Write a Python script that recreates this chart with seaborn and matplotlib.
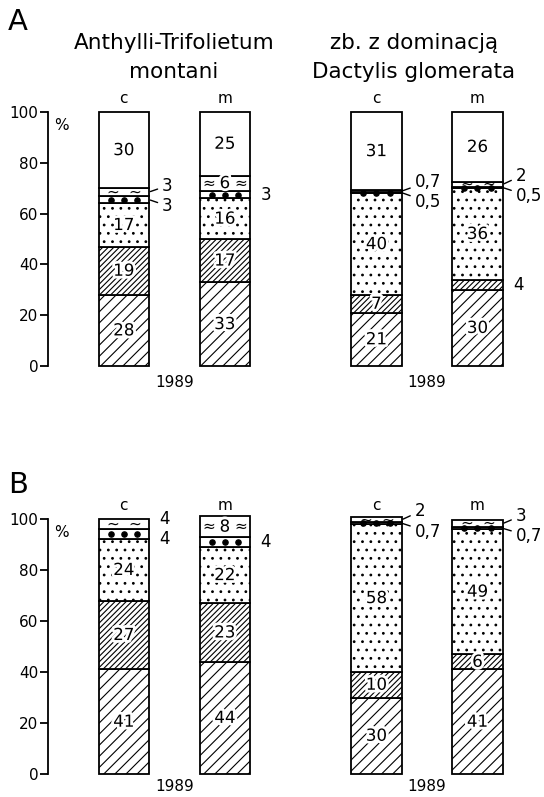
import numpy as np
import pandas as pd
import matplotlib.pyplot as plt
import matplotlib.patheffects as pe
import seaborn as sns

sns.set_style('ticks')
plt.rcParams['font.family'] = ['DejaVu Sans']
plt.rcParams['hatch.linewidth'] = 0.8
plt.rcParams['text.color'] = 'black'
plt.rcParams['ytick.color'] = 'black'
plt.rcParams['axes.edgecolor'] = 'black'

# --- data ---
groups = [('Anthylli-Trifolietum', 'montani'), ('zb. z dominacją', 'Dactylis glomerata')]
bar_names = ['c', 'm', 'c', 'm']
year = '1989'
yticks = [0, 20, 40, 60, 80, 100]
layers = ['wide', 'dense', 'dots', 'bigdots', 'wavy', 'rest']

# panel A (bottom -> top), bars: c, m | c, m
wide_A = [28, 33, 21, 30]
dense_A = [19, 17, 7, 4]
dots_A = [17, 16, 40, 36]
bigdots_A = [3, 3, 0.5, 0.5]
wavy_A = [3, 6, 0.7, 2]
rest_A = [30, 25, 31, 26]

# panel B
wide_B = [41, 44, 30, 41]
dense_B = [27, 23, 10, 6]
dots_B = [24, 22, 58, 49]
bigdots_B = [4, 4, 0.7, 0.7]
wavy_B = [4, 8, 2, 3]
rest_B = [0, 0, 0, 0]

panel_A = dict(wide=wide_A, dense=dense_A, dots=dots_A, bigdots=bigdots_A, wavy=wavy_A, rest=rest_A)
panel_B = dict(wide=wide_B, dense=dense_B, dots=dots_B, bigdots=bigdots_B, wavy=wavy_B, rest=rest_B)

hatches = dict(wide='///', dense='//////', dots='..', bigdots='', wavy='', rest='')

pos = np.array([0, 1, 2.5, 3.5])
half = 0.25
halo = [pe.withStroke(linewidth=4, foreground='white')]


def fmt(v):
    return ('%g' % v).replace('.', ',')


def draw_panel(ax, panel, year_y):
    bottom = np.zeros(4)
    segs = {}
    for layer in layers:
        vals = np.array(panel[layer], float)
        if layer == 'rest':
            if not vals.any():
                continue
            heights = 100 - bottom
        else:
            heights = vals
        sns.barplot(x=pos, y=heights, bottom=bottom, native_scale=True, width=0.5,
                    color='white', edgecolor='black', linewidth=1.3, hatch=hatches[layer],
                    errorbar=None, ax=ax, zorder=2, clip_on=False)
        segs[layer] = (bottom.copy(), heights.copy(), vals)
        bottom = bottom + heights

    for i in range(4):
        x = pos[i]
        outside = []
        for layer in layers:
            if layer not in segs:
                continue
            b, h, v = segs[layer]
            val, mid = v[i], b[i] + h[i] / 2
            if layer == 'bigdots':
                ax.scatter(x + np.array([-0.13, 0, 0.13]), [mid] * 3, s=14, color='black',
                           marker='o', zorder=4, clip_on=False)
            if layer == 'wavy' and val >= 2:
                dx = 0.16 if val >= 5 else 0.11
                for s in (-1, 1):
                    ax.text(x + s * dx, mid, '≈' if val >= 5 else '~', ha='center',
                            va='center', fontsize=11, zorder=4)
            if val >= 5:
                ax.text(x, mid, fmt(val), ha='center', va='center', fontsize=12, zorder=5,
                        path_effects=halo)
            else:
                outside.append([layer, val, mid, mid])

        small = [o for o in outside if o[0] in ('bigdots', 'wavy')]
        if len(small) == 2:
            lo, hi = small[0], small[1]
            m = (lo[2] + hi[2]) / 2
            if hi[2] - lo[2] < 8:
                lo[3], hi[3] = m - 4, m + 4
        for layer, val, mid, ly in outside:
            with_line = len(small) == 2 and val < 4 and layer in ('bigdots', 'wavy')
            if with_line:
                ax.annotate(fmt(val), xy=(x + half, mid), xytext=(x + half + 0.13, ly),
                            ha='left', va='center', fontsize=12,
                            arrowprops=dict(arrowstyle='-', lw=1, color='black',
                                            shrinkA=1, shrinkB=1))
            else:
                ax.text(x + half + 0.1, ly, fmt(val), ha='left', va='center', fontsize=12)

    for i in range(4):
        ax.text(pos[i], 102.5, bar_names[i], ha='center', va='bottom', fontsize=11)
    for g in range(2):
        ax.text(pos[2 * g:2 * g + 2].mean(), year_y, year, ha='center', va='top', fontsize=11)

    ax.set_ylim(0, 100)
    ax.set_xlim(-0.75, 4.02)
    ax.set_yticks(yticks)
    ax.set_yticklabels([str(t) for t in yticks], fontsize=11)
    ax.set_xticks([])
    ax.set_xlabel('')
    ax.set_ylabel('')
    ax.tick_params(axis='y', direction='out', length=6, width=1.3, pad=1)
    sns.despine(ax=ax, bottom=True)
    ax.spines['left'].set_linewidth(1.3)
    ax.text(0.012, 0.975, '%', transform=ax.transAxes, ha='left', va='top', fontsize=11)


W, H = 544, 797
fig = plt.figure(figsize=(W / 100, H / 100), dpi=100)
axA = fig.add_axes([48 / W, 1 - 366 / H, 482 / W, 254 / H])
axB = fig.add_axes([48 / W, 1 - 774 / H, 482 / W, 255 / H])
draw_panel(axA, panel_A, -3.5)
draw_panel(axB, panel_B, -1.8)

fig.text(8 / W, 1 - 22 / H, 'A', fontsize=21, ha='left', va='center')
fig.text(8 / W, 1 - 485 / H, 'B', fontsize=21, ha='left', va='center')
title_x = [174, 414]
for g, (l1, l2) in enumerate(groups):
    fig.text(title_x[g] / W, 1 - 43 / H, l1, fontsize=15.5, ha='center', va='center')
    fig.text(title_x[g] / W, 1 - 72 / H, l2, fontsize=15.5, ha='center', va='center')

fig.savefig('out.png', dpi=100)
